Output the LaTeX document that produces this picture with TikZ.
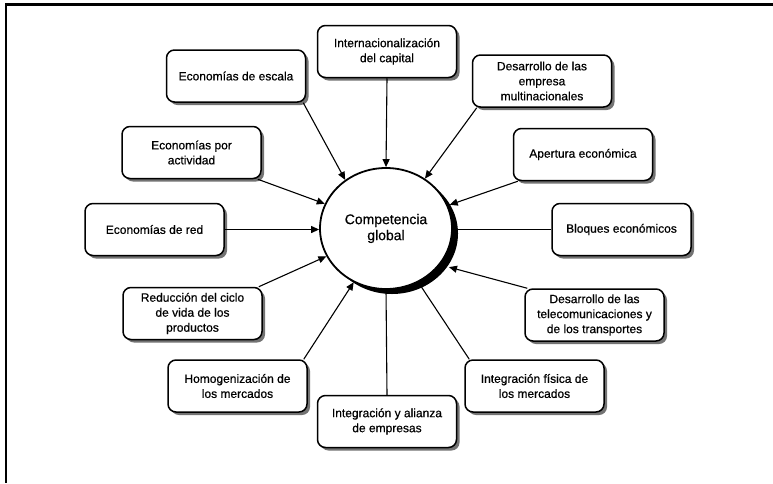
\documentclass[tikz,border=0pt]{standalone}
\usepackage{fontspec}
\setmainfont{Liberation Sans}[FakeBold=0.6]
\usetikzlibrary{arrows.meta,shadows,shapes.geometric}
\tikzset{
  box/.style={draw=black, line width=1.5pt, fill=white, rounded corners=8pt,
    minimum width=139pt, minimum height=52pt, align=center, inner sep=2pt,
    font=\fontsize{12}{15}\selectfont,
    drop shadow={shadow xshift=3pt, shadow yshift=-3pt, fill=black!55, opacity=1}},
  hub/.style={ellipse, draw=black, line width=1.8pt, fill=white,
    minimum width=132pt, minimum height=121pt, inner sep=0pt, align=center,
    font=\fontsize{14}{16}\selectfont,
    drop shadow={shadow xshift=6pt, shadow yshift=-5pt, fill=black, opacity=1}},
  conn/.style={line width=1.1pt, draw=black},
  arr/.style={conn, -{Triangle[length=8pt,width=7pt]}}
}
\begin{document}
\begin{tikzpicture}[x=1pt,y=-1pt]
\useasboundingbox (0,0) rectangle (773,483);
\fill[white] (0,0) rectangle (773,483);
% frame
\draw[line width=3pt] (5,4.5) -- (773,4.5);
\draw[line width=2pt] (6,3) -- (6,483);

\node[hub] (c) at (386,228.5) {Competencia\\global};

\node[box] (esc) at (236,76) {Economías de escala};
\node[box] (cap) at (387,51.5) {Internacionalización\\del capital};
\node[box] (mul) at (542,81) {Desarrollo de las\\empresa\\multinacionales};
\node[box] (act) at (191.5,152.5) {Economías por\\actividad};
\node[box] (ape) at (583,154.5) {Apertura económica};
\node[box] (red) at (154.5,229.5) {Economías de red};
\node[box] (blo) at (621.5,229.5) {Bloques económicos};
\node[box] (rci) at (192.5,313.5) {Reducción del ciclo\\de vida de los\\productos};
\node[box] (tel) at (594.5,315) {Desarrollo de las\\telecomunicaciones y\\de los transportes};
\node[box] (hom) at (237.5,386) {Homogenización de\\los mercados};
\node[box] (fis) at (534.5,386) {Integración física de\\los mercados};
\node[box] (ali) at (387,421.5) {Integración y alianza\\de empresas};

\draw[arr] ([xshift=-3pt]esc.south east) -- (c.130);
\draw[arr] (cap.south) -- (c.north);
\draw[arr] ([xshift=5pt]mul.south west) -- (c.52.5);
\draw[arr] ([xshift=-4pt]act.south east) -- (c.158.7);
\draw[arr] ([xshift=5pt]ape.south west) -- ([xshift=2pt]c.21);
\draw[arr] (red.east) -- (c.west |- red.east);
\draw[conn] (blo.west) -- (c.east |- blo.west);
\draw[arr] ([xshift=-4pt]rci.north east) -- (c.205.8);
\draw[arr] ([xshift=3pt]tel.north west) -- ([xshift=7pt,yshift=-5pt]c.-31.7);
\draw[arr] ([xshift=-4pt]hom.north east) -- (c.239);
\draw[conn] ([xshift=5pt]fis.north west) -- (c.-59.8);
\draw[conn] (ali.north) -- (c.south);
\end{tikzpicture}
\end{document}
